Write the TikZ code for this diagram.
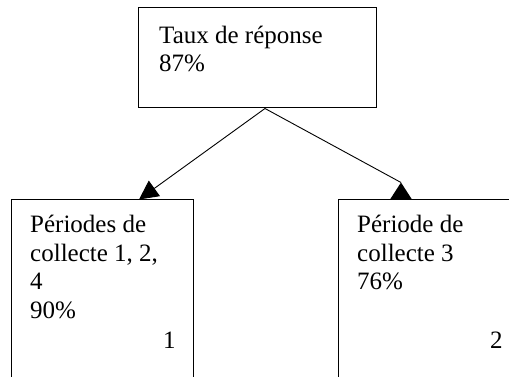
\documentclass[tikz,border=0pt]{standalone}
\usepackage{fontspec}
\setmainfont{Liberation Serif}
\usetikzlibrary{arrows.meta,calc}
\begin{document}
\begin{tikzpicture}[x=1pt,y=1pt,
  box/.style={draw=black,line width=1pt,rectangle,inner sep=0pt},
  txt/.style={anchor=base west,inner sep=0pt,align=left,font=\fontsize{25}{28.5}\selectfont},
  conn/.style={line width=0.9pt,draw=black}]
\useasboundingbox (0,0) rectangle (509,377);
\clip (0,0) rectangle (509,377);
\node[box,minimum width=238pt,minimum height=100pt] (top) at (257,319) {};
\node[box,minimum width=182pt,minimum height=200pt] (left) at (102,77) {};
\node[box,minimum width=222pt,minimum height=200pt] (right) at (449,77) {};
\node[txt] (t1) at (159,305) {Taux de réponse\\87\%};
\node[txt] (t2) at (30,58.5) {Périodes de\\collecte 1, 2,\\4\\90\%};
\node[txt] (t3) at (357,87) {Période de\\collecte 3\\76\%};
\node[txt] (n1) at (163,28) {1};
\node[txt] (n2) at (490,28) {2};
\coordinate (s) at ([xshift=8pt]top.south);
\coordinate (lt) at ([xshift=37pt]left.north);
\coordinate (ra) at ([xshift=-48pt,yshift=17pt]right.north);
\draw[conn,-{Triangle[length=19pt,width=19pt]}] (s) -- (lt);
\draw[conn] (s) -- (ra);
\fill[black] ([xshift=-59pt]right.north) -- (ra) -- ([xshift=-37pt]right.north) -- cycle;
\end{tikzpicture}
\end{document}
